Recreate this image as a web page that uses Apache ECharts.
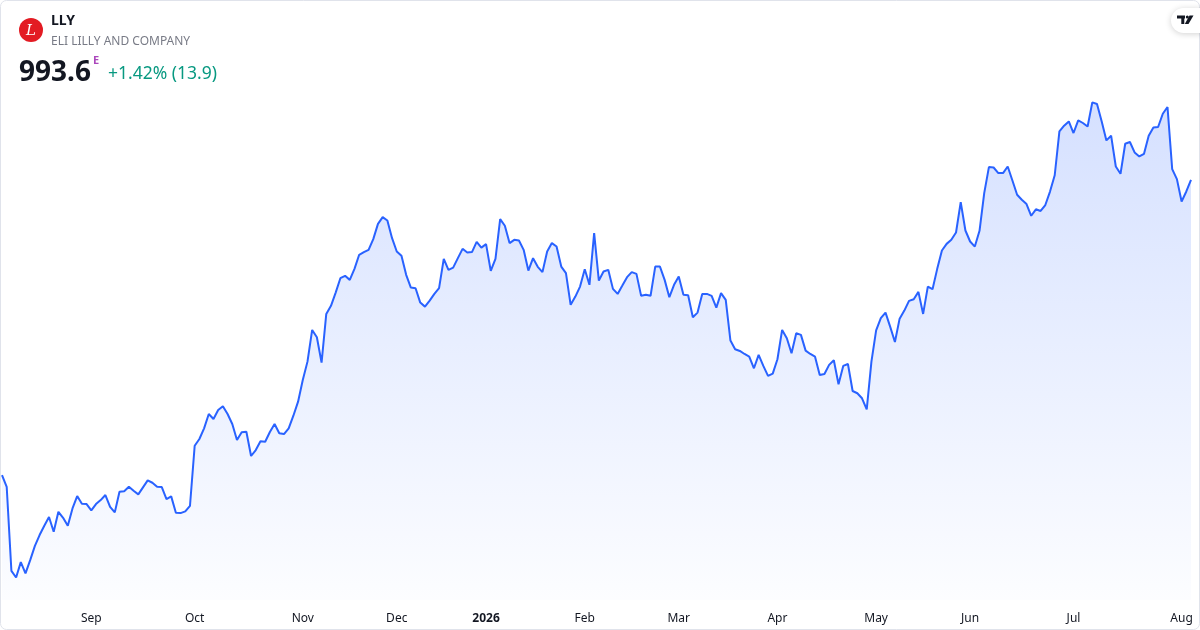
<!DOCTYPE html>
<html>
<head>
<meta charset="utf-8">
<script src="https://cdn.jsdelivr.net/npm/echarts@6/dist/echarts.min.js"></script>
<style>
html,body{margin:0;padding:0;background:#fff;}
#c{width:1200px;height:630px;}
</style>
</head>
<body>
<div id="c"></div>
<script>
// Daily close prices
const prices = [
642.6,628.6,528.7,520.8,539.0,525.6,541.4,558.4,571.2,582.2,
592.6,575.1,598.9,591.7,582.2,602.9,617.6,608.4,608.0,600.5,
608.0,612.8,618.8,604.8,598.2,622.7,623.2,628.6,623.9,619.6,
627.9,636.2,633.4,628.6,628.3,614.0,617.2,597.7,597.3,599.4,
606.0,677.4,685.4,698.1,715.1,709.2,719.9,724.3,715.1,703.2,
684.2,693.4,694.1,665.2,672.3,682.7,682.2,693.7,703.2,692.2,
691.3,698.1,713.1,729.8,755.6,777.4,815.1,806.4,776.2,834.1,
843.7,859.5,876.6,879.4,874.6,887.7,904.4,907.6,910.3,923.0,
941.2,949.2,945.2,924.2,908.3,903.2,880.6,865.4,864.7,847.6,
842.8,850.0,857.9,864.7,899.6,886.5,889.2,900.4,911.5,907.1,
907.6,919.8,913.0,917.1,885.3,899.6,946.8,938.9,918.3,922.2,
921.4,910.3,885.7,900.4,890.1,883.8,908.3,918.3,914.2,890.4,
882.6,844.9,854.7,866.6,887.3,868.7,930.2,873.8,884.5,886.5,
863.9,857.9,867.8,877.8,883.8,881.7,855.6,856.8,855.6,890.4,
890.4,874.6,854.0,868.7,878.5,856.8,856.4,830.2,835.7,857.9,
857.9,855.6,841.6,858.8,850.8,802.4,792.1,790.1,786.5,783.3,
769.5,785.4,772.3,760.4,763.1,780.2,815.1,805.2,787.4,811.2,
809.2,790.5,786.5,783.3,761.6,762.7,773.5,779.0,750.5,772.3,
774.6,742.5,739.8,733.8,720.7,777.4,814.5,829.0,835.7,818.7,
800.8,828.5,838.1,849.6,851.6,860.3,834.1,866.6,863.5,887.7,
909.5,917.4,922.2,930.9,967.1,933.3,920.2,914.2,932.9,977.8,
1008.7,1008.2,1001.6,1001.6,1009.4,992.8,975.8,969.8,964.7,950.8,
958.5,956.5,963.6,979.6,999.0,1051.1,1057.9,1063.0,1049.2,1064.2,
1061.1,1057.0,1085.6,1083.7,1063.0,1040.4,1046.0,1009.4,1000.7,1036.4,
1038.5,1026.1,1021.3,1024.5,1046.0,1055.8,1056.3,1072.1,1080.1,1006.3,
994.4,967.8,979.7,993.6
];
// Month tick labels and the index of the first session of each month
const monthLabels = ['Sep','Oct','Nov','Dec','2026','Feb','Mar','Apr','May','Jun','Jul','Aug'];
const monthIdx = [19,41,64,84,103,124,144,165,186,206,228,251];

const categories = prices.map((_, i) => String(i));
const FONT = '"Noto Sans", "Open Sans", sans-serif';

const chart = echarts.init(document.getElementById('c'), null, {renderer: 'canvas'});
chart.setOption({
  animation: false,
  backgroundColor: '#ffffff',
  grid: {left: 2, right: 9, top: 60, bottom: 30},
  xAxis: {
    type: 'category',
    data: categories,
    boundaryGap: false,
    axisLine: {show: false},
    axisTick: {show: false},
    splitLine: {show: false},
    axisLabel: {
      interval: (idx) => monthIdx.indexOf(idx) >= 0,
      formatter: (val, idx) => {
        const k = monthIdx.indexOf(idx);
        if (k < 0) return '';
        const t = monthLabels[k];
        return /^\d{4}$/.test(t) ? '{b|' + t + '}' : t;
      },
      color: '#131722',
      fontSize: 12,
      fontFamily: FONT,
      margin: 13,
      rich: {b: {fontWeight: 'bold', fontSize: 12, color: '#131722', fontFamily: FONT}}
    }
  },
  yAxis: {
    type: 'value',
    min: 494,
    max: 1136,
    show: false
  },
  series: [{
    type: 'line',
    data: prices,
    symbol: 'none',
    smooth: false,
    lineStyle: {color: '#2962FF', width: 2},
    areaStyle: {
      color: new echarts.graphic.LinearGradient(0, 0, 0, 1, [
        {offset: 0, color: 'rgba(41,98,255,0.28)'},
        {offset: 1, color: 'rgba(41,98,255,0.02)'}
      ])
    }
  }],
  graphic: [
    {type: 'rect', shape: {x: 0.5, y: 0.5, width: 1199, height: 629, r: 6},
     style: {fill: 'none', stroke: '#e0e3eb', lineWidth: 1}, silent: true, z: 10},
    {type: 'circle', shape: {cx: 31, cy: 30, r: 12}, style: {fill: '#e31b23'}, z: 10},
    {type: 'text', x: 31, y: 31, z: 11,
     style: {text: 'L', fill: '#ffffff', font: 'italic 15px "DejaVu Serif", serif', align: 'center', verticalAlign: 'middle'}},
    {type: 'text', x: 51, y: 14.5, z: 11,
     style: {text: 'LLY', fill: '#131722', font: 'bold 14px ' + FONT, verticalAlign: 'top'}},
    {type: 'text', x: 51, y: 36, z: 11,
     style: {text: 'ELI LILLY AND COMPANY', fill: '#787b86', font: '12px ' + FONT, verticalAlign: 'top'}},
    {type: 'text', x: 19, y: 59, z: 11,
     style: {text: '993.6', fill: '#131722', font: 'bold 28px ' + FONT, verticalAlign: 'top'}},
    {type: 'text', x: 93, y: 55.5, z: 11,
     style: {text: 'E', fill: '#ab47bc', font: 'bold 11px ' + FONT, verticalAlign: 'top'}},
    {type: 'text', x: 108, y: 65.5, z: 11,
     style: {text: '+1.42% (13.9)', fill: '#089981', font: '17.5px ' + FONT, verticalAlign: 'top'}},
    {type: 'rect', shape: {x: 1171, y: 8, width: 40, height: 25, r: 12.5}, z: 10,
     style: {fill: '#ffffff', shadowBlur: 6, shadowColor: 'rgba(0,0,0,0.18)', shadowOffsetY: 1}},
    {type: 'polygon', z: 11, shape: {points: [[1177,15.5],[1185,15.5],[1185,18.5],[1184.3,18.5],[1184.3,24],[1181.3,24],[1181.3,18.5],[1177,18.5]]},
     style: {fill: '#131722'}},
    {type: 'circle', z: 11, shape: {cx: 1187.3, cy: 17, r: 1.5}, style: {fill: '#131722'}},
    {type: 'polygon', z: 11, shape: {points: [[1189.5,15.5],[1193.5,15.5],[1188.5,24],[1184.8,24]]},
     style: {fill: '#131722'}}
  ]
});
</script>
</body>
</html>
